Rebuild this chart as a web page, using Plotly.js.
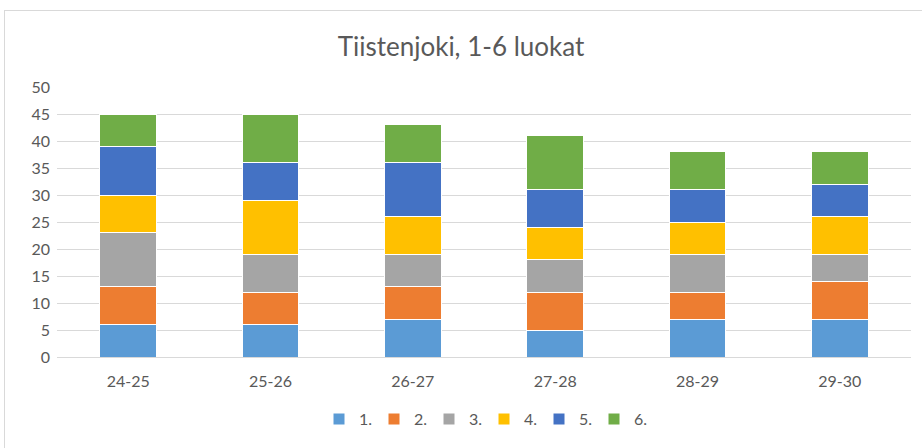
<!DOCTYPE html>
<html><head><meta charset="utf-8">
<script src="https://cdn.plot.ly/plotly-3.0.1.min.js"></script>
<style>
html,body{margin:0;padding:0;background:#fff;}
#frame{position:absolute;left:4px;top:10px;width:930px;height:450px;border:1px solid #d9d9d9;box-sizing:border-box;}
#chart{position:absolute;left:0;top:0;width:922px;height:448px;}
</style></head>
<body>
<div id="frame"></div>
<div id="chart"></div>
<script>
var categories = ["24-25","25-26","26-27","27-28","28-29","29-30"];
var seriesNames = ["1.","2.","3.","4.","5.","6."];
var s1 = [6,6,7,5,7,7];
var s2 = [7,6,6,7,5,7];
var s3 = [10,7,6,6,7,5];
var s4 = [7,10,7,6,6,7];
var s5 = [9,7,10,7,6,6];
var s6 = [6,9,7,10,7,6];
var seriesValues = [s1,s2,s3,s4,s5,s6];
var colors = ["#5B9BD5","#ED7D31","#A5A5A5","#FFC000","#4472C4","#70AD47"];

var data = seriesValues.map(function(v,i){
  return {type:"bar", x:categories, y:v, name:seriesNames[i],
    marker:{color:colors[i], line:{color:"#ffffff", width:1}}, hoverinfo:"y"};
});
var font = "Lato, Calibri, sans-serif";
var layout = {
  width:922, height:448, barmode:"stack", bargap:0.6,
  paper_bgcolor:"rgba(0,0,0,0)", plot_bgcolor:"rgba(0,0,0,0)",
  margin:{l:57,r:11,t:87,b:91},
  font:{family:font, color:"#595959", size:16},
  title:{text:"Tiistenjoki, 1-6 luokat", font:{size:26, color:"#595959", family:font}, x:0.5, xanchor:"center", y:0.895, yanchor:"middle"},
  xaxis:{type:"category", showgrid:false, showline:true, linecolor:"#d9d9d9", linewidth:1, ticks:"", tickfont:{size:16,color:"#595959"}, ticklabelstandoff:10},
  yaxis:{range:[0,50], dtick:5, showgrid:true, gridcolor:"#d9d9d9", gridwidth:1, zeroline:false, ticks:"", tickfont:{size:16,color:"#595959"}, ticklabelstandoff:6},
  legend:{orientation:"h", x:0.5, xanchor:"center", y:-0.23, yanchor:"middle", font:{size:16,color:"#595959"}, traceorder:"normal", itemwidth:30, entrywidth:10, entrywidthmode:"pixels"},
  showlegend:true
};
Plotly.newPlot("chart", data, layout, {displayModeBar:false, staticPlot:true});
</script>
</body></html>
